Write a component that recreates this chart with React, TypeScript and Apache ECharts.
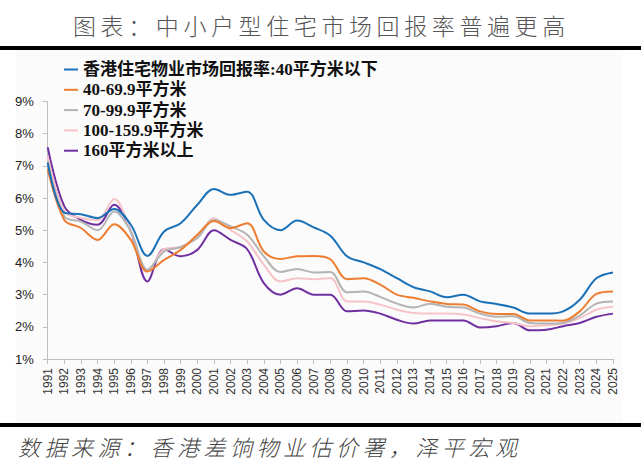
import React, { useEffect, useRef } from "react";
import * as echarts from "echarts";

const TITLE = "图表：中小户型住宅市场回报率普遍更高";
const SOURCE = "数据来源：香港差饷物业估价署，泽平宏观";

const years = [1991, 1992, 1993, 1994, 1995, 1996, 1997, 1998, 1999, 2000, 2001, 2002, 2003, 2004, 2005, 2006, 2007, 2008, 2009, 2010, 2011, 2012, 2013, 2014, 2015, 2016, 2017, 2018, 2019, 2020, 2021, 2022, 2023, 2024, 2025];

const seriesNames = [
  "香港住宅物业市场回报率:40平方米以下",
  "40-69.9平方米",
  "70-99.9平方米",
  "100-159.9平方米",
  "160平方米以上",
];

const under40 = [7.1, 5.55, 5.5, 5.38, 5.66, 5.17, 4.2, 4.96, 5.22, 5.79, 6.28, 6.1, 6.2, 5.32, 5.0, 5.3, 5.09, 4.83, 4.19, 4.0, 3.79, 3.51, 3.23, 3.1, 2.92, 3.0, 2.79, 2.71, 2.6, 2.41, 2.41, 2.48, 2.84, 3.51, 3.69];
const s40to70 = [6.9, 5.32, 5.07, 4.7, 5.19, 4.7, 3.72, 4.08, 4.39, 4.86, 5.29, 5.07, 5.22, 4.34, 4.11, 4.19, 4.2, 4.1, 3.48, 3.51, 3.31, 3.0, 2.9, 2.79, 2.71, 2.69, 2.48, 2.4, 2.4, 2.2, 2.2, 2.19, 2.48, 3.02, 3.1];
const s70to100 = [7.15, 5.43, 5.27, 5.0, 5.58, 4.96, 3.77, 4.34, 4.48, 4.76, 5.32, 5.12, 4.86, 4.19, 3.7, 3.8, 3.69, 3.7, 3.07, 3.1, 2.93, 2.72, 2.6, 2.72, 2.62, 2.6, 2.41, 2.31, 2.33, 2.12, 2.1, 2.12, 2.35, 2.72, 2.79];
const s100to160 = [7.3, 5.58, 5.38, 5.32, 5.97, 4.96, 3.72, 4.41, 4.48, 4.81, 5.37, 5.01, 4.65, 3.93, 3.41, 3.51, 3.48, 3.52, 2.79, 2.79, 2.69, 2.53, 2.43, 2.41, 2.41, 2.38, 2.27, 2.17, 2.12, 2.02, 2.05, 2.1, 2.27, 2.53, 2.62];
const over160 = [7.58, 5.74, 5.32, 5.17, 5.79, 4.96, 3.41, 4.41, 4.19, 4.39, 5.0, 4.7, 4.41, 3.36, 3.0, 3.2, 3.0, 3.0, 2.48, 2.51, 2.41, 2.22, 2.1, 2.2, 2.2, 2.2, 1.98, 2.02, 2.12, 1.89, 1.91, 2.02, 2.12, 2.31, 2.41];

const seriesValues = [under40, s40to70, s70to100, s100to160, over160];
const colors = ["#1a71b8", "#ed7d31", "#b4b4b4", "#f6c4c8", "#7030a0"];

const yTicks = [1, 9];

export default function App() {
  const ref = useRef<HTMLDivElement>(null);

  useEffect(() => {
    if (!ref.current) return;
    const chart = echarts.init(ref.current, undefined, { renderer: "svg" });

    const titleChars = Array.from(TITLE).map((ch, i) => ({
      type: "text",
      x: 84.5 + i * 27.6,
      y: 25,
      style: {
        text: ch,
        fontSize: 23,
        fontFamily: "Noto Sans CJK SC",
        fontWeight: 300,
        fill: "#555",
        align: "center",
        verticalAlign: "middle",
      },
    }));

    const sourceChars = Array.from(SOURCE).map((ch, i) => ({
      type: "text",
      x: 29 + i * 26.5,
      y: 446,
      style: {
        text: ch,
        fontSize: 22,
        fontFamily: "Noto Sans CJK SC",
        fontWeight: 300,
        fontStyle: "italic",
        fill: "#444",
        align: "center",
        verticalAlign: "middle",
      },
    }));

    chart.setOption({
      animation: false,
      backgroundColor: "#ffffff",
      color: colors,
      graphic: [
        { type: "rect", z: -10, shape: { x: 16, y: 50, width: 607, height: 373 }, style: { fill: "#fbfbfb" } },
        { type: "rect", shape: { x: 0, y: 46, width: 641, height: 4 }, style: { fill: "#000" } },
        { type: "rect", shape: { x: 0, y: 423, width: 641, height: 4 }, style: { fill: "#000" } },
        ...titleChars,
        ...sourceChars,
      ],
      legend: {
        orient: "vertical",
        left: 59,
        top: 56,
        itemWidth: 14,
        itemHeight: 2,
        itemGap: 3.3,
        icon: "rect",
        data: seriesNames,
        textStyle: {
          fontSize: 17,
          lineHeight: 17,
          fontWeight: "bold",
          fontFamily: "'Liberation Serif', 'Noto Sans CJK SC', serif",
          color: "#111",
        },
      },
      grid: { left: 47.7, right: 28, top: 101.5, bottom: 112, containLabel: false },
      xAxis: {
        type: "value",
        min: years[0],
        max: years[years.length - 1],
        interval: 1,
        axisLine: { lineStyle: { color: "#bfbfbf", width: 1 } },
        axisTick: { show: true, length: 5, lineStyle: { color: "#bfbfbf" } },
        splitLine: { show: false },
        axisLabel: {
          rotate: 90,
          margin: 9,
          fontSize: 12,
          fontFamily: "'Liberation Sans', Arial, sans-serif",
          color: "#333",
          formatter: (v: number) => String(v),
        },
      },
      yAxis: {
        type: "value",
        min: yTicks[0],
        max: yTicks[1],
        interval: 1,
        axisLine: { show: true, lineStyle: { color: "#bfbfbf", width: 1 } },
        axisTick: { show: true, length: 5, lineStyle: { color: "#bfbfbf" } },
        splitLine: { show: false },
        axisLabel: {
          margin: 14,
          fontSize: 13,
          fontFamily: "'Liberation Sans', Arial, sans-serif",
          color: "#222",
          formatter: "{value}%",
        },
      },
      series: seriesNames.map((name, i) => ({
        name,
        type: "line",
        smooth: 0.35,
        symbol: "none",
        lineStyle: { width: 2, color: colors[i] },
        itemStyle: { color: colors[i] },
        z: 10 - i,
        data: years.map((y, j) => [y, seriesValues[i][j]]),
      })),
    });

    return () => chart.dispose();
  }, []);

  return (
    <div
      ref={ref}
      style={{ position: "fixed", left: 0, top: 0, width: 641, height: 471 }}
    />
  );
}
